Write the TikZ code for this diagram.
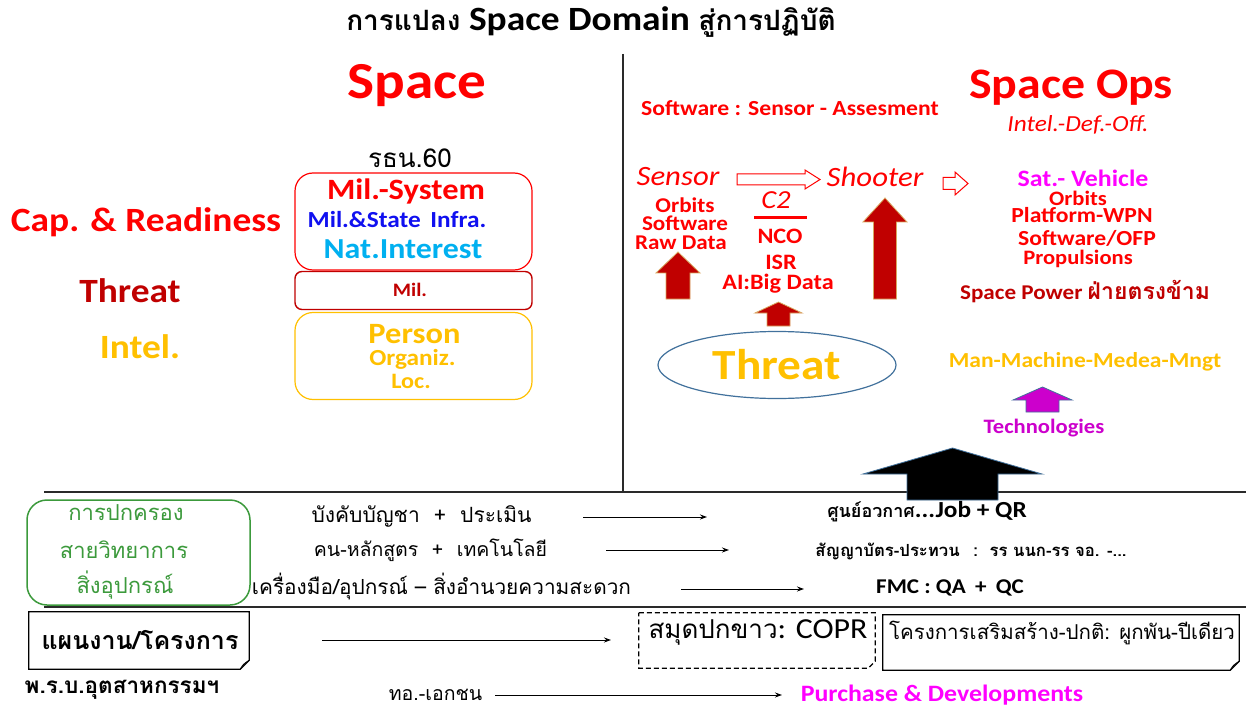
\documentclass[tikz,border=0pt]{standalone}
\usepackage{fontspec}
\setmainfont{Carlito}[FakeStretch=1.1]
\newfontfamily\thai[Script=Thai]{Loma}
\usetikzlibrary{arrows.meta,shapes.geometric}
\definecolor{cRed}{HTML}{FF0000}
\definecolor{cDarkRed}{HTML}{C00000}
\definecolor{cOrange}{HTML}{FFC000}
\definecolor{cBlue}{HTML}{1010F0}
\definecolor{cCyan}{HTML}{00B0F0}
\definecolor{cMagenta}{HTML}{FF00FF}
\definecolor{cPurple}{HTML}{CC00CC}
\definecolor{cGreen}{HTML}{3C9A3C}
\definecolor{cSteel}{HTML}{41719C}
\definecolor{cGold}{HTML}{D8A860}
\definecolor{cRule}{HTML}{2A2A2A}
\newcommand\fsz[1]{\fontsize{#1}{#1}\selectfont}
% block arrow pointing up: style, centre x, tip y, head base y, head width, shaft width, bottom y
\newcommand\blockup[7]{%
  \draw[#1] (#2,#3) -- ({#2+#5/2},#4) -- ({#2+#6/2},#4) -- ({#2+#6/2},#7)
    -- ({#2-#6/2},#7) -- ({#2-#6/2},#4) -- ({#2-#5/2},#4) -- cycle;}
\tikzset{
  txt/.style={inner sep=0pt, outer sep=0pt, align=center},
  bigred/.style={fill=cDarkRed, draw=cGold, line width=0.8pt},
  hollow/.style={fill=white, draw=cRed, line width=1pt},
  conn/.style={-{Stealth[length=7pt,width=5pt]}, line width=1pt, black},
  rule/.style={cRule, line width=2pt},
}
\begin{document}
\begin{tikzpicture}[x=1pt,y=-1pt]
\useasboundingbox (0,0) rectangle (1246,708);
\fill[white] (0,0) rectangle (1246,708);

% title
\node[txt] (title) at (591,22) {\bfseries\fsz{34}{\thai\fsz{28}การแปลง} Space Domain {\thai\fsz{28}สู่การปฏิบัติ}};

% separators
\coordinate (vtop) at (623,54);
\coordinate (vbot) at (623,491);
\draw[cRule, line width=1.6pt] (vtop) -- (vbot);
\coordinate (r1a) at (44,492);
\coordinate (r1b) at (1246,492);
\coordinate (r2a) at (44,607);
\coordinate (r2b) at (1246,607);
\draw[rule] (r1a) -- (r1b);
\draw[rule] (r2a) -- (r2b);

% ---------- left panel ----------
\node[txt, text=cRed] (space) at (417,86) {\bfseries\fsz{52}Space};
\node[txt] (rtn) at (410,158) {\thai\fsz{26}รธน.60};

\node[txt, text=cRed] (capL) at (146,222) {\bfseries\fsz{34}Cap. \& Readiness};
\node[txt, text=cDarkRed] (thrL) at (130,291) {\bfseries\fsz{34}Threat};
\node[txt, text=cOrange] (intL) at (140,347) {\bfseries\fsz{34}Intel.};

\node[draw=cRed, line width=1.2pt, rounded corners=18pt, minimum width=237, minimum height=97] (capbox) at (413.5,221.5) {};
\node[draw=cDarkRed, line width=1.4pt, rounded corners=7pt, minimum width=237, minimum height=38] (thrbox) at (413.5,290.5) {};
\node[draw=cOrange, line width=1.2pt, rounded corners=18pt, minimum width=237, minimum height=87] (intbox) at (413.5,356) {};

\node[txt, text=cRed] (milsys) at (406,191) {\bfseries\fsz{29.5}Mil.-System};
\node[txt, text=cBlue] (infra) at (397,220) {\bfseries\fsz{23}Mil.\&State\hspace{4pt} Infra.};
\node[txt, text=cCyan] (natint) at (403,249) {\bfseries\fsz{29}Nat.Interest};
\node[txt, text=cDarkRed] (mil) at (410,290) {\bfseries\fsz{19}Mil.};
\node[txt, text=cOrange] (person) at (414.5,334) {\bfseries\fsz{29.5}Person};
\node[txt, text=cOrange] (organiz) at (412.5,359) {\bfseries\fsz{23}Organiz.};
\node[txt, text=cOrange] (loc) at (411,381) {\bfseries\fsz{22}Loc.};

% ---------- right panel ----------
\node[txt, text=cRed] (swsa) at (790,108) {\bfseries\fsz{21.5}Software : Sensor - Assesment};
\node[txt, text=cRed] (ops) at (1071,88) {\bfseries\fsz{43.5}Space Ops};
\node[txt, text=cRed] (idf) at (1078,125) {\itshape\fsz{23}Intel.-Def.-Off.};

\node[txt, text=cRed] (sensor) at (678,177) {\itshape\fsz{28}Sensor};
\node[txt, text=cRed] (shooter) at (875,177) {\itshape\fsz{28}Shooter};
\draw[hollow] (737,174) -- (805,174) -- (805,170) -- (820,179.5) -- (805,189) -- (805,185) -- (737,185) -- cycle;
\draw[hollow] (943,177.5) -- (955,177.5) -- (955,172) -- (968,183.5) -- (955,195) -- (955,189.5) -- (943,189.5) -- cycle;

\node[txt, text=cRed] (ctwo) at (776,200) {\itshape\fsz{26}C2};
\draw[cRed, line width=3pt] (754,218) -- (807,218);

\node[txt, text=cRed] (orb1) at (685,205) {\bfseries\fsz{21}Orbits};
\node[txt, text=cRed] (sw1) at (685,223) {\bfseries\fsz{21}Software};
\node[txt, text=cRed] (raw) at (681,243) {\bfseries\fsz{21}Raw Data};
\node[txt, text=cRed] (nco) at (780,236) {\bfseries\fsz{22}NCO};
\node[txt, text=cRed] (isr) at (781,262) {\bfseries\fsz{22}ISR};
\node[txt, text=cRed] (ai) at (778,284) {\bfseries\fsz{22}AI:Big Data};

\blockup{bigred}{678}{252}{273}{44}{24}{299}
\blockup{bigred}{778.5}{302}{313}{47}{23}{326}
\blockup{bigred}{885}{198}{222}{44}{23}{299}

\node[ellipse, draw=cSteel, line width=1.2pt, minimum width=238, minimum height=67, inner sep=0pt] (threat) at (777,365) {\color{cOrange}\bfseries\fsz{43}Threat};

\node[txt, text=cMagenta] (sat) at (1083,178) {\bfseries\fsz{23.5}Sat.- Vehicle};
\node[txt, text=cRed] (orb2) at (1078,198) {\bfseries\fsz{20.5}Orbits};
\node[txt, text=cRed] (wpn) at (1082,215.5) {\bfseries\fsz{21.5}Platform-WPN};
\node[txt, text=cRed] (ofp) at (1087,238.5) {\bfseries\fsz{21.5}Software/OFP};
\node[txt, text=cRed] (prop) at (1078,258.5) {\bfseries\fsz{20.5}Propulsions};
\node[txt, text=cDarkRed] (power) at (1085,292) {\bfseries\fsz{21}Space Power {\thai\fsz{23}ฝ่ายตรงข้าม}};
\node[txt, text=cOrange] (mmmm) at (1085,362) {\bfseries\fsz{21.4}Man-Machine-Medea-Mngt};
\blockup{fill=cPurple, draw=cSteel, line width=0.8pt}{1042.5}{387}{400}{59}{33}{412}
\node[txt, text=cPurple] (tech) at (1044,428) {\bfseries\fsz{20.5}Technologies};

\blockup{fill=black, draw=cSteel, line width=0.8pt}{952.5}{448}{474}{179}{91}{500}

% ---------- lower band ----------
\node[draw=cGreen, line width=1.5pt, rounded corners=20pt, minimum width=223, minimum height=105] (gbox) at (138.5,552.5) {};
\node[txt, text=cGreen] (g1) at (126,513) {\thai\fsz{22}การปกครอง};
\node[txt, text=cGreen] (g2) at (124,550) {\thai\fsz{22}สายวิทยาการ};
\node[txt, text=cGreen] (g3) at (125,585) {\thai\fsz{22}สิ่งอุปกรณ์};

\node[txt] (l1) at (421.5,516) {\thai\fsz{21}บังคับบัญชา\hspace{7pt} + \hspace{7pt}ประเมิน};
\node[txt] (l2) at (430.5,550) {\thai\fsz{19.5}คน-หลักสูตร\hspace{7pt} + \hspace{7pt}เทคโนโลยี};
\node[txt] (l3) at (441.5,587) {\thai\fsz{20.8}เครื่องมือ/อุปกรณ์ – สิ่งอำนวยความสะดวก};

\coordinate (a1s) at (583,517);
\coordinate (a1e) at (707,517);
\coordinate (a2s) at (606,550);
\coordinate (a2e) at (729,550);
\coordinate (a3s) at (681,589);
\coordinate (a3e) at (804,589);
\draw[conn] (a1s) -- (a1e);
\draw[conn] (a2s) -- (a2e);
\draw[conn] (a3s) -- (a3e);

\node[txt] (r1) at (927,512) {\bfseries\fsz{23}{\thai\fsz{18}ศูนย์อวกาศ}...Job + QR};
\node[txt] (r2) at (971,551) {\bfseries\thai\fsz{16.7}สัญญาบัตร-ประทวน\hspace{8pt} : \hspace{4pt}รร นนก-รร จอ. -...};
\node[txt] (r3) at (950,588) {\bfseries\fsz{21}FMC : QA\hspace{4pt} + \hspace{4pt}QC};

% ---------- bottom band ----------
\node[minimum width=220, minimum height=57, inner sep=0pt] (plan) at (139,640.5) {};
\draw[black, line width=1.2pt] (plan.north west) -- (plan.north east) -- ([yshift=9pt]plan.south east)
  -- ([xshift=-9pt]plan.south east) -- (plan.south west) -- cycle;
\draw[black, line width=0.8pt] ([yshift=9pt]plan.south east) .. controls ([xshift=-6pt,yshift=5pt]plan.south east) .. ([xshift=-9pt]plan.south east);
\node[txt] (plantxt) at (140,640) {\bfseries\thai\fsz{25}แผนงาน/โครงการ};

\coordinate (a4s) at (322,640);
\coordinate (a4e) at (611,640);
\draw[conn] (a4s) -- (a4e);

\node[minimum width=236, minimum height=55, inner sep=0pt] (copr) at (757,640.5) {};
\draw[black, line width=1.2pt, dash pattern=on 5pt off 3pt] (copr.north west) -- (copr.north east) -- ([yshift=7pt]copr.south east)
  -- ([xshift=-7pt]copr.south east) -- (copr.south west) -- cycle;
\node[txt] (coprtxt) at (758,632) {\fsz{29}{\thai\fsz{26}สมุดปกขาว}: COPR};

\node[minimum width=356, minimum height=55, inner sep=0pt] (proj) at (1061,642.5) {};
\draw[black, line width=1.2pt] (proj.north west) -- (proj.north east) -- ([yshift=9pt]proj.south east)
  -- ([xshift=-9pt]proj.south east) -- (proj.south west) -- cycle;
\draw[black, line width=0.8pt] ([yshift=9pt]proj.south east) .. controls ([xshift=-6pt,yshift=5pt]proj.south east) .. ([xshift=-9pt]proj.south east);
\node[txt] (projtxt) at (1062,633) {\thai\fsz{20.5}โครงการเสริมสร้าง-ปกติ: ผูกพัน-ปีเดียว};

\node[txt] (prb) at (122,690) {\bfseries\thai\fsz{22.5}พ.ร.บ.อุตสาหกรรมฯ};
\node[txt] (private) at (435.5,695) {\thai\fsz{19.5}ทอ.-เอกชน};
\coordinate (a5s) at (495,695);
\coordinate (a5e) at (782,695);
\draw[conn] (a5s) -- (a5e);
\node[txt, text=cMagenta] (purch) at (942,695) {\bfseries\fsz{23.5}Purchase \& Developments};
\end{tikzpicture}
\end{document}
